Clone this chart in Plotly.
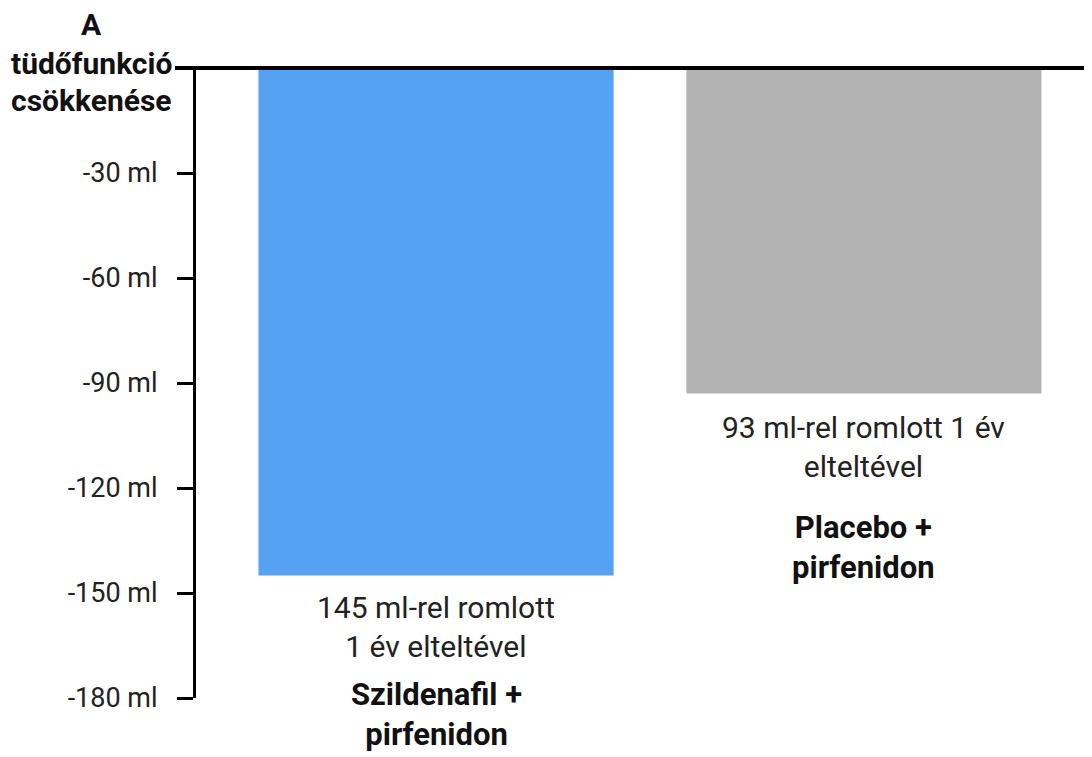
import plotly.graph_objects as go

categories = ["Szildenafil +<br>pirfenidon", "Placebo +<br>pirfenidon"]
values = [-145, -93]
value_notes = ["145 ml-rel romlott<br>1 év elteltével", "93 ml-rel romlott 1 év<br>elteltével"]
bar_colors = ["#55A1F2", "#B3B3B3"]
tick_values = [-30, -60, -90, -120, -150, -180]
tick_labels = ["-30 ml", "-60 ml", "-90 ml", "-120 ml", "-150 ml", "-180 ml"]
axis_title_lines = ["A", "tüdőfunkció", "csökkenése"]

OFF = 8  # browser body margin
W, H = 1092 - OFF, 757 - OFF
L, T = 196 - OFF, 68 - OFF
PH = 630
R = 0
B = H - T - PH
PW = W - L - R

def px_x(px):  # reference page pixel -> paper x
    return (px - OFF - L) / PW

def px_y(py):
    return 1 - (py - OFF - T) / PH

xs = [0, 1]
fig = go.Figure()
fig.add_trace(go.Bar(x=xs, y=values, marker=dict(color=bar_colors, line=dict(width=0)),
                     width=0.83, hoverinfo="skip"))

fig.update_layout(
    width=W, height=H,
    margin=dict(l=L, r=R, t=T, b=B),
    plot_bgcolor="white", paper_bgcolor="white",
    showlegend=False,
    font=dict(family="Roboto", color="#222222"),
    xaxis=dict(range=[-0.561, 1.533], showticklabels=False, showgrid=False,
               zeroline=False, showline=False, ticks=""),
    yaxis=dict(range=[-180, 0], tickvals=tick_values, ticktext=tick_labels,
               showgrid=False, zeroline=False, showline=True, linecolor="black",
               linewidth=3, ticks="outside", ticklen=16, tickwidth=3, tickcolor="black",
               tickfont=dict(family="Roboto", size=27, color="#222222"),
               ticklabelstandoff=14),
)

fig.add_shape(type="line", xref="paper", yref="paper", x0=px_x(175), x1=1.0, y0=1, y1=1,
              line=dict(color="black", width=4))

note_mid = [627, 447]
cat_mid = [714, 547]
for x, note, nm, cat, cm in zip(xs, value_notes, note_mid, categories, cat_mid):
    fig.add_annotation(x=x, xref="x", y=px_y(nm), yref="paper", yanchor="middle",
                       text=note, showarrow=False, align="center",
                       font=dict(family="Roboto", size=30, color="#222222"))
    fig.add_annotation(x=x, xref="x", y=px_y(cm), yref="paper", yanchor="middle",
                       text="<b>" + cat + "</b>", showarrow=False, align="center",
                       borderpad=0,
                       font=dict(family="Roboto", size=31, color="#111111", weight=900))

title_y = [24, 63, 100]
for line, ty in zip(axis_title_lines, title_y):
    fig.add_annotation(x=px_x(91), xref="paper", y=px_y(ty), yref="paper", yanchor="middle",
                       xanchor="center", text="<b>" + line + "</b>", showarrow=False,
                       borderpad=0,
                       font=dict(family="Roboto", size=30, color="#111111", weight=900))

fig.write_html("out.html")
